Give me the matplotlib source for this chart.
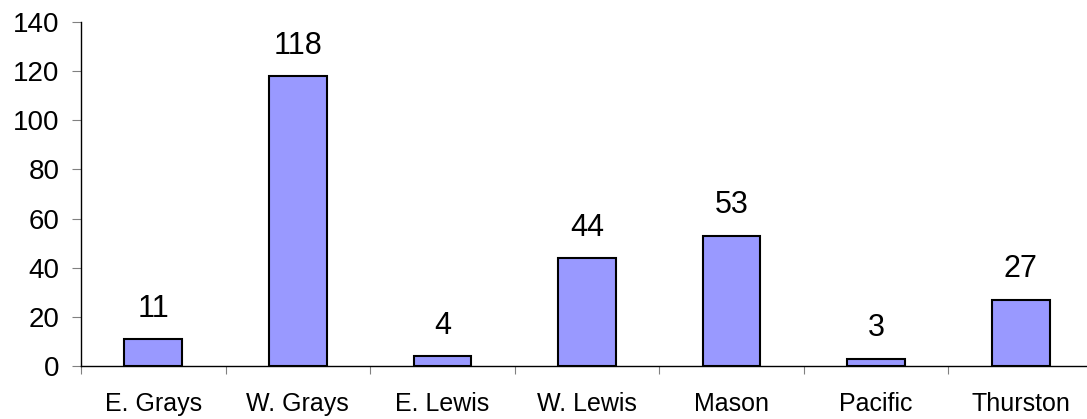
import numpy as np
from matplotlib import pyplot as plt

plt.rcParams['font.family'] = ['Liberation Sans', 'DejaVu Sans']

regions = ['E. Grays', 'W. Grays', 'E. Lewis', 'W. Lewis', 'Mason', 'Pacific', 'Thurston']
counts = [11, 118, 4, 44, 53, 3, 27]

fig = plt.figure(figsize=(10.87, 4.19), dpi=100)
ax = fig.add_axes([81 / 1087, 53 / 419, 1012 / 1087, 344 / 419])

x = np.arange(len(regions))
ax.bar(x, counts, width=0.4, color='#9999FF', edgecolor='black', linewidth=1.5)

# Value labels above bars
for xi, c in zip(x, counts):
    ax.annotate(str(c), (xi, c), xytext=(0, 11), textcoords='offset points',
                ha='center', va='bottom', fontsize=22)

ax.set_xlim(-0.5, len(regions) - 0.5)
ax.set_ylim(0, 140)
ax.set_yticks(range(0, 141, 20))
ax.tick_params(axis='y', labelsize=20, length=6.5, color='#808080', pad=9)

# category labels centred, tick marks between categories
ax.set_xticks(np.arange(len(regions) + 1) - 0.5)
ax.set_xticklabels([])
ax.set_xticks(x, minor=True)
ax.set_xticklabels(regions, minor=True)
ax.tick_params(axis='x', which='major', length=6, color='#808080')
ax.tick_params(axis='x', which='minor', length=0, labelsize=18, pad=19)

for s in ['top', 'right']:
    ax.spines[s].set_visible(False)
ax.spines['left'].set_linewidth(1)
ax.spines['bottom'].set_linewidth(1)

fig.savefig('out.png', dpi=100)
